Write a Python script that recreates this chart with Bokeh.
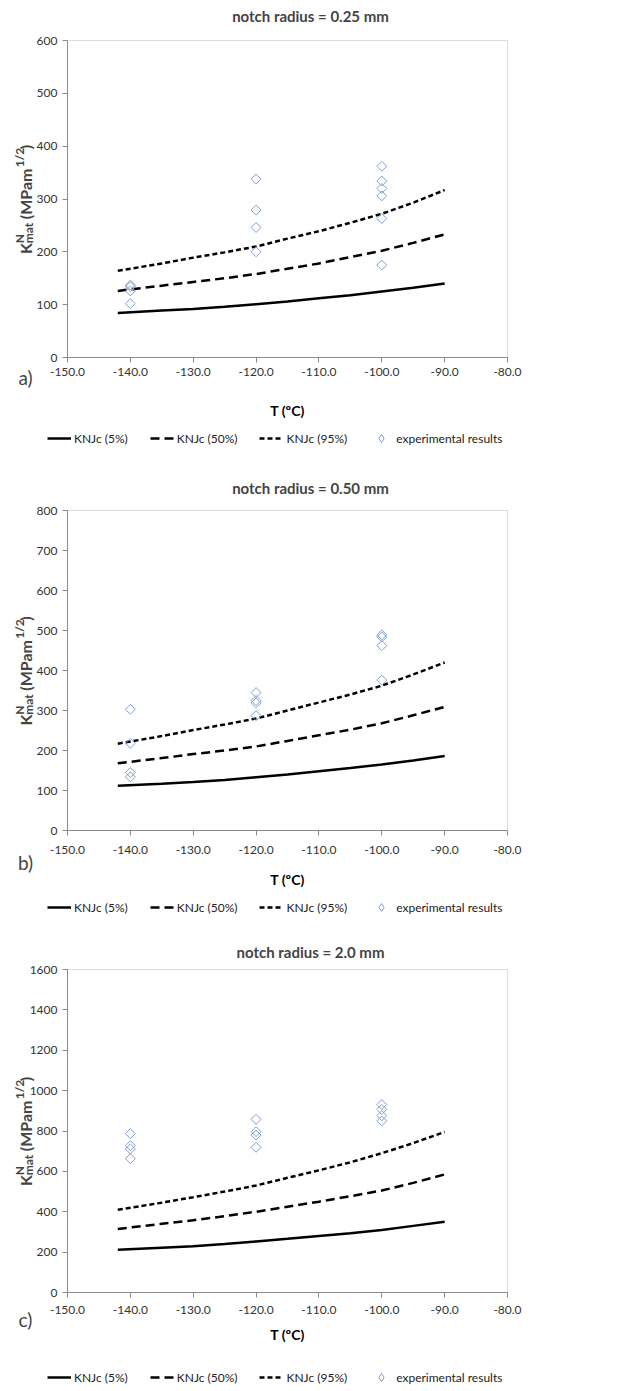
import math
from bokeh.plotting import figure
from bokeh.models import (Label, Legend, LegendItem, FixedTicker, BoxAnnotation,
                          PrintfTickFormatter, Range1d)
from bokeh.layouts import column
from bokeh.embed import file_html
from bokeh.resources import INLINE

# ---------------- data ----------------
T_curve = [-142, -135, -130, -125, -120, -115, -110, -105, -100, -95, -90]

k5_a = [84, 89, 92, 96, 101, 106, 112, 118, 125, 132, 140]
k50_a = [126, 136, 143, 150, 158, 168, 178, 190, 202, 217, 233]
k95_a = [164, 178, 189, 199, 210, 225, 239, 255, 272, 293, 317]
exp_T_a = [-140, -140, -140, -140, -120, -120, -120, -120,
           -100, -100, -100, -100, -100, -100]
exp_K_a = [137, 134, 126, 102, 338, 279, 246, 200,
           362, 334, 320, 306, 263, 175]

k5_b = [112, 117, 121, 126, 133, 140, 148, 156, 165, 175, 186]
k50_b = [168, 181, 191, 200, 210, 224, 238, 252, 268, 288, 309]
k95_b = [217, 236, 251, 265, 280, 300, 320, 340, 362, 390, 420]
exp_T_b = [-140, -140, -140, -140, -120, -120, -120, -120,
           -100, -100, -100, -100]
exp_K_b = [303, 218, 145, 134, 345, 325, 319, 287,
           489, 484, 462, 376]

k5_c = [212, 222, 229, 240, 253, 266, 280, 294, 310, 330, 350]
k50_c = [315, 340, 358, 378, 400, 425, 450, 477, 505, 543, 585]
k95_c = [410, 445, 472, 500, 530, 568, 605, 645, 690, 740, 795]
exp_T_c = [-140, -140, -140, -140, -120, -120, -120, -120,
           -100, -100, -100, -100]
exp_K_c = [787, 727, 711, 663, 858, 797, 780, 719,
           931, 907, 876, 850]

x_ticks = [-150, -140, -130, -120, -110, -100, -90, -80]
titles = ["notch radius = 0.25 mm", "notch radius = 0.50 mm", "notch radius = 2.0 mm"]
letters = ["a)", "b)", "c)"]
legend_labels = ["KNJc (5%)", "KNJc (50%)", "KNJc (95%)", "experimental results"]
x_title = "T (ºC)"

FONT = "Lato"
MARK = "#7f9fd3"
GRAY = "#8a8a8a"
W = 624
XMIN, XMAX = -150, -80
FRAME_L, FRAME_R = 67, 507   # page x of the plot-area box


def make_panel(title, letter, ymax, ystep, k5, k50, k95, eT, eK,
               fig_top, frame_top, frame_bot, fig_bot,
               title_py, letter_py, lab_stand, ax_stand, legend_py):
    h = fig_bot - fig_top
    xpp = (XMAX - XMIN) / (FRAME_R - FRAME_L)      # data units per pixel
    ypp = ymax / (frame_bot - frame_top)
    xr = Range1d(XMIN - FRAME_L * xpp, XMAX + (W - FRAME_R) * xpp)
    yr = Range1d(-(fig_bot - frame_bot) * ypp, ymax + (frame_top - fig_top) * ypp)

    def X(px):
        return XMIN + (px - FRAME_L) * xpp

    def Y(py):
        return (frame_bot - py) * ypp

    p = figure(width=W, height=h, output_backend="svg", toolbar_location=None,
               x_range=xr, y_range=yr, min_border=0, title=None)
    p.xgrid.visible = False
    p.ygrid.visible = False
    p.outline_line_color = None
    p.border_fill_color = "white"

    for ax in (p.xaxis[0], p.yaxis[0]):
        ax.axis_line_color = GRAY
        ax.major_tick_line_color = GRAY
        ax.major_tick_out = 5
        ax.major_tick_in = 0
        ax.minor_tick_line_color = None
        ax.major_label_text_font = FONT
        ax.major_label_text_font_size = "12px"
        ax.major_label_text_color = "#333333"
    p.xaxis.fixed_location = 0
    p.xaxis.bounds = (XMIN, XMAX)
    p.xaxis.ticker = FixedTicker(ticks=x_ticks)
    p.xaxis.formatter = PrintfTickFormatter(format="%.1f")
    p.xaxis.major_label_standoff = lab_stand
    p.xaxis.axis_label = x_title
    p.xaxis.axis_label_text_font = FONT
    p.xaxis.axis_label_text_font_style = "bold"
    p.xaxis.axis_label_text_font_size = "14px"
    p.xaxis.axis_label_text_color = "black"
    p.xaxis.axis_label_standoff = ax_stand
    p.yaxis.fixed_location = XMIN
    p.yaxis.bounds = (0, ymax)
    p.yaxis.ticker = FixedTicker(ticks=list(range(0, ymax + 1, ystep)))
    p.yaxis.major_label_standoff = 5

    # plot-area box
    p.add_layout(BoxAnnotation(left=XMIN, right=XMAX, bottom=0, top=ymax,
                               fill_alpha=0, line_color=GRAY, line_width=1,
                               level="underlay"))

    r5 = p.line(T_curve, k5, line_color="black", line_width=2.5)
    r50 = p.line(T_curve, k50, line_color="black", line_width=2.5, line_dash="9 5")
    r95 = p.line(T_curve, k95, line_color="black", line_width=2.5, line_dash="5 3")
    p.scatter(eT, eK, marker="square", angle=math.pi / 4, size=7,
              fill_color=None, line_color=MARK, line_width=1)
    # legend-only twin of the markers (legend swatches ignore marker angle)
    rx_leg = p.scatter(eT, eK, marker="diamond", size=10, fill_color=None,
                       line_color=MARK, line_width=1, visible=False)

    leg = Legend(items=[LegendItem(label=legend_labels[0], renderers=[r5]),
                        LegendItem(label=legend_labels[1], renderers=[r50]),
                        LegendItem(label=legend_labels[2], renderers=[r95]),
                        LegendItem(label=legend_labels[3], renderers=[rx_leg])],
                 orientation="horizontal",
                 location=(47, fig_bot - (legend_py + 10)),
                 label_text_font=FONT, label_text_font_size="12px",
                 label_text_color="#222222",
                 glyph_width=24, glyph_height=20, label_height=20,
                 label_standoff=3, spacing=22, padding=0, margin=0,
                 border_line_alpha=0, background_fill_alpha=0,
                 inactive_fill_alpha=0)
    p.add_layout(leg)

    p.add_layout(Label(x=X(310), y=Y(title_py), text=title, text_font=FONT,
                       text_font_size="15px", text_font_style="bold",
                       text_align="center", text_baseline="middle"))
    p.add_layout(Label(x=X(25), y=Y(letter_py), text=letter, text_font=FONT,
                       text_font_size="19px", text_align="center",
                       text_baseline="middle"))

    # y axis title with super/subscripts
    pieces = [("K", 16, 0, 10.8), ("N", 12, -6.5, 0), ("mat", 12, 3, 24.0),
              ("(MPam", 16, 0, 52.0), ("1/2", 12, -6.5, 18.0), (")", 16, 0, 5.2)]
    total = sum(pc[3] for pc in pieces)
    cy = (frame_top + frame_bot) / 2 + total / 2
    base_x = 25
    for txt, fs, off, adv in pieces:
        p.add_layout(Label(x=X(base_x + off), y=Y(cy), text=txt, text_font=FONT,
                           text_font_size=f"{fs}px", text_font_style="bold",
                           angle=math.pi / 2, text_align="left",
                           text_baseline="alphabetic"))
        cy -= adv
    return p


pa = make_panel(titles[0], letters[0], 600, 100, k5_a, k50_a, k95_a, exp_T_a, exp_K_a,
                0, 40, 357, 462, 15, 377, 5, 23, 438)
pb = make_panel(titles[1], letters[1], 800, 100, k5_b, k50_b, k95_b, exp_T_b, exp_K_b,
                462, 510, 830, 925, 487, 862, 10, 14, 907)
pc = make_panel(titles[2], letters[2], 1600, 200, k5_c, k50_c, k95_c, exp_T_c, exp_K_c,
                925, 969, 1292, 1390, 951, 1319, 8, 9, 1377)

layout = column(pa, pb, pc, spacing=0)
open("out.html", "w").write(file_html(layout, INLINE))
